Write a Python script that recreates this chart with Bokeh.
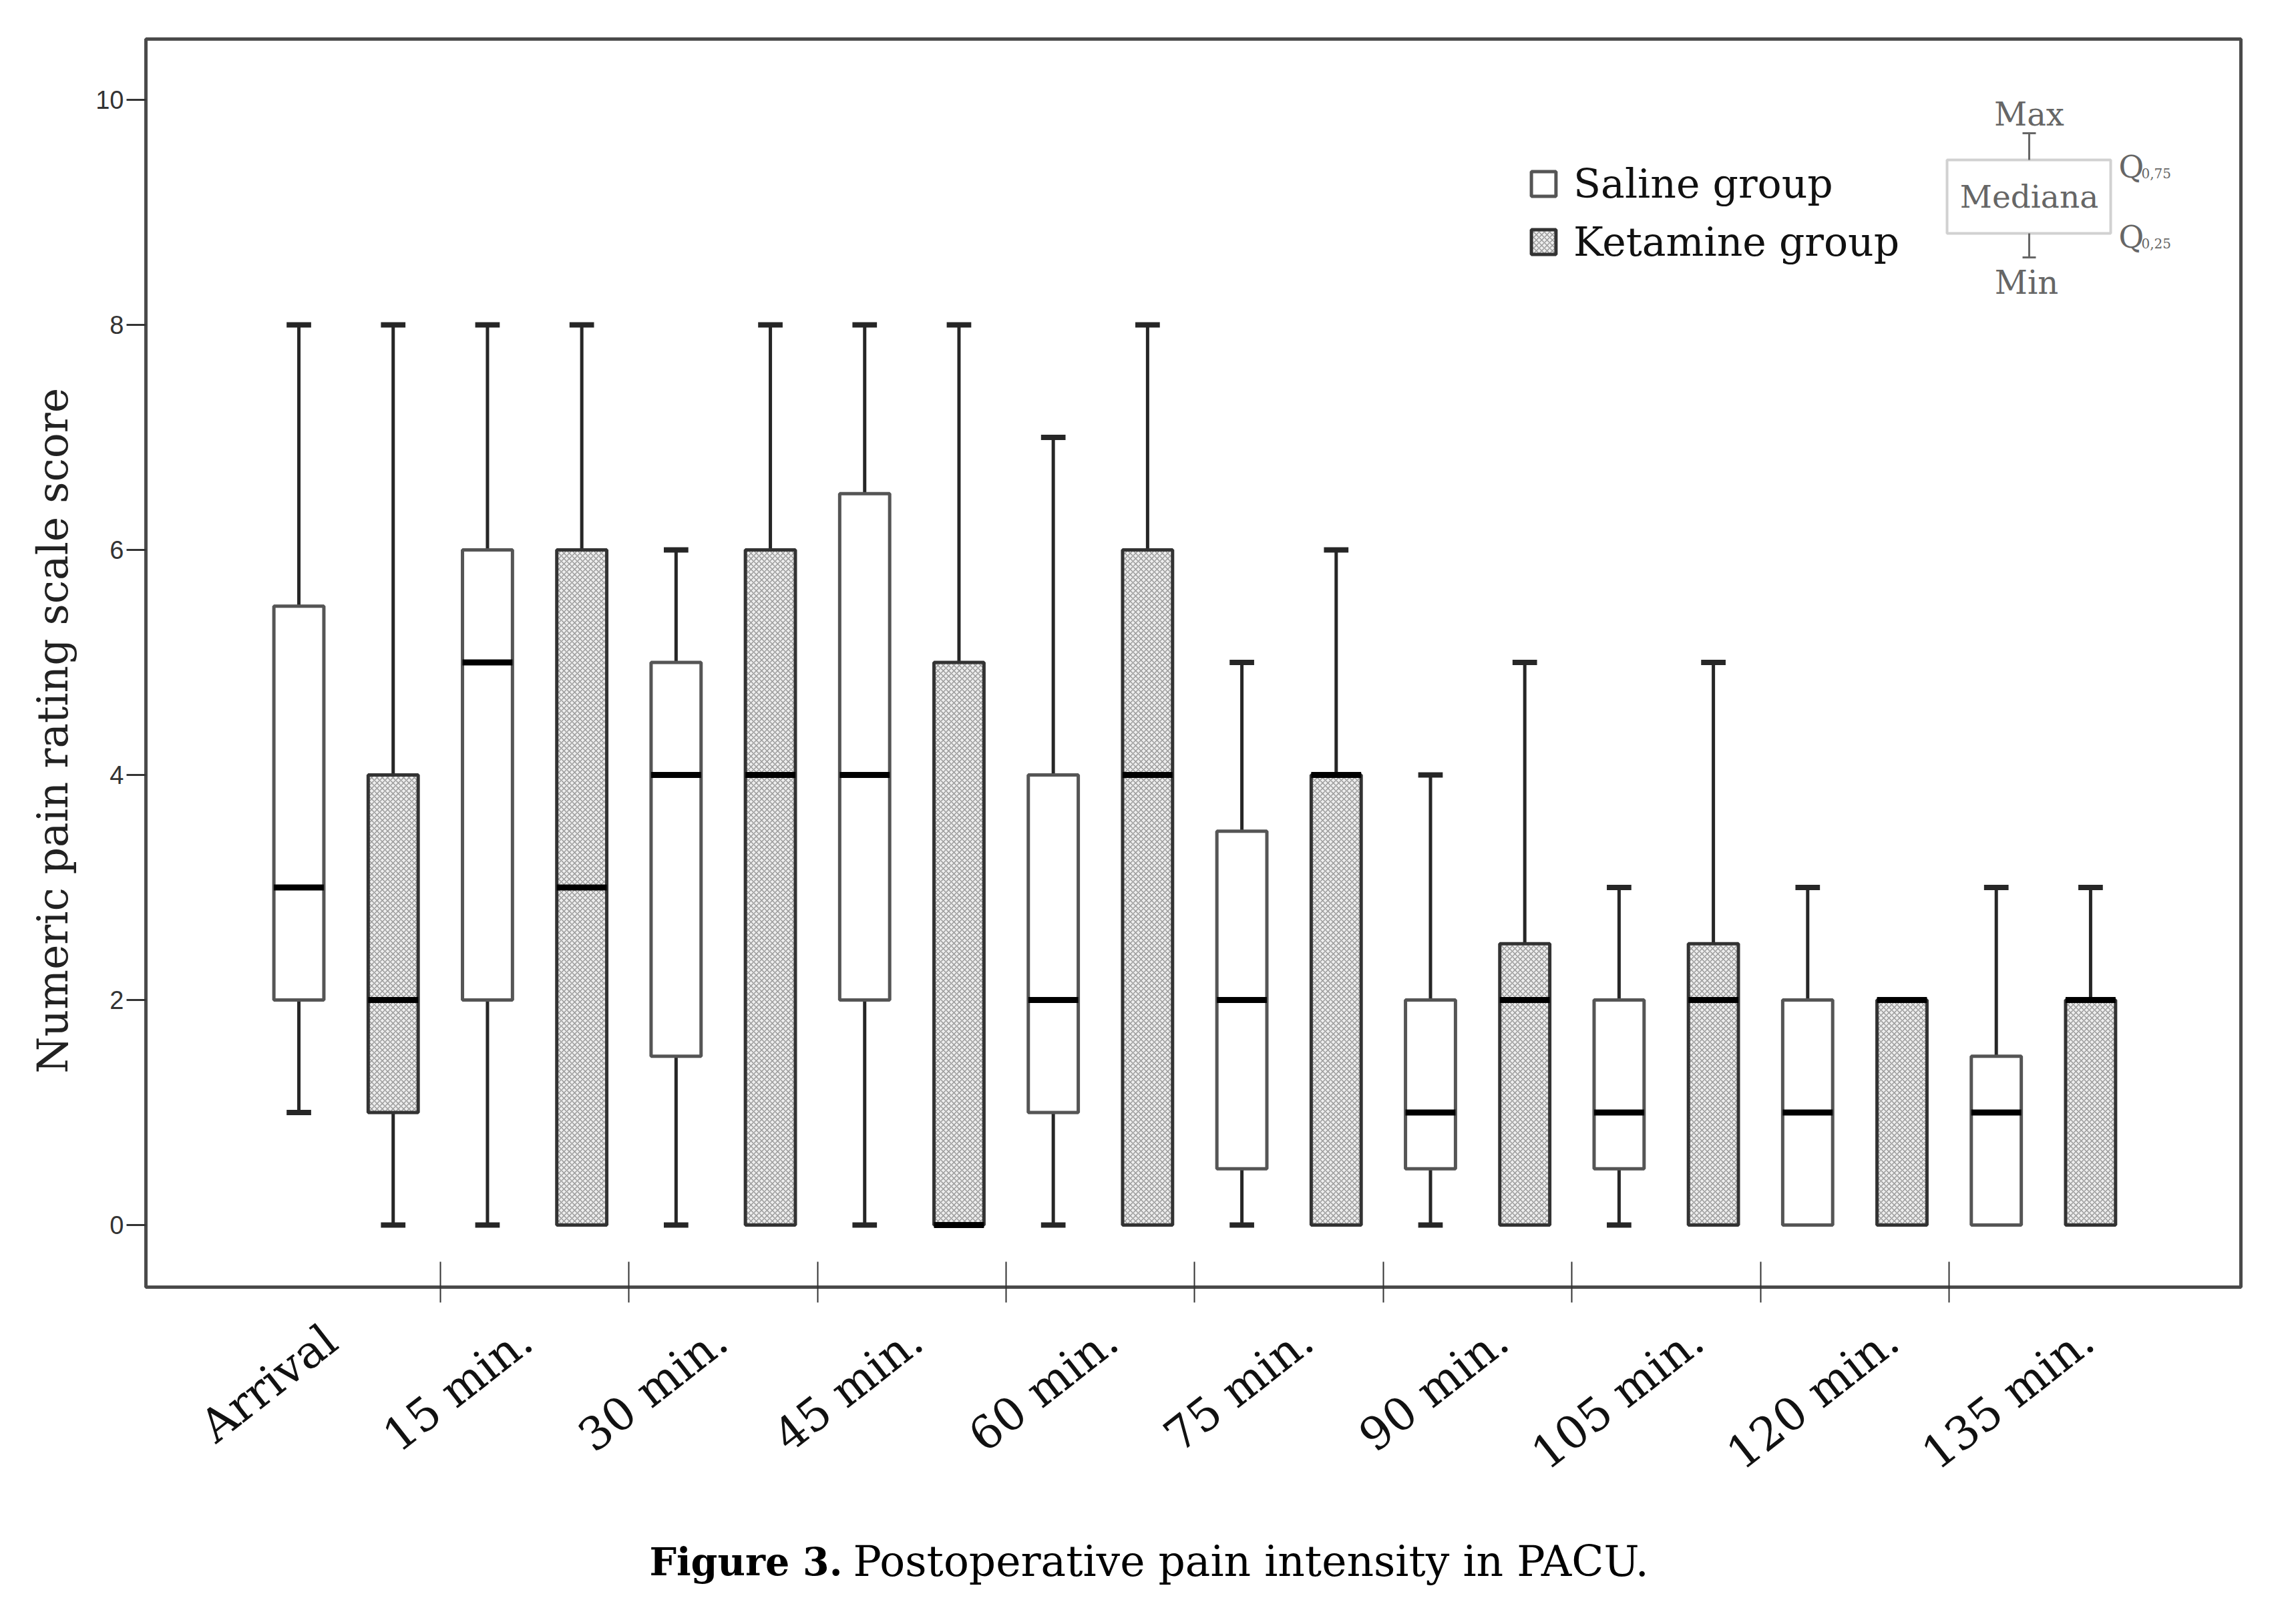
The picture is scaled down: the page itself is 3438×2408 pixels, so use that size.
import math
from bokeh.plotting import figure
from bokeh.layouts import column
from bokeh.models import (Range1d, FixedTicker, Label, Legend, LegendItem,
                          ColumnDataSource, BoxAnnotation, Title)
from bokeh.core.properties import value
from bokeh.embed import file_html
from bokeh.resources import INLINE

# ---------------- data ----------------
groups = ["Arrival", "15 min.", "30 min.", "45 min.", "60 min.",
          "75 min.", "90 min.", "105 min.", "120 min.", "135 min."]

saline_min = [1, 0, 0, 0, 0, 0, 0, 0, 0, 0]
saline_q1 = [2, 2, 1.5, 2, 1, 0.5, 0.5, 0.5, 0, 0]
saline_med = [3, 5, 4, 4, 2, 2, 1, 1, 1, 1]
saline_q3 = [5.5, 6, 5, 6.5, 4, 3.5, 2, 2, 2, 1.5]
saline_max = [8, 8, 6, 8, 7, 5, 4, 3, 3, 3]

ketamine_min = [0, 0, 0, 0, 0, 0, 0, 0, 0, 0]
ketamine_q1 = [1, 0, 0, 0, 0, 0, 0, 0, 0, 0]
ketamine_med = [2, 3, 4, 0, 4, 4, 2, 2, 2, 2]
ketamine_q3 = [4, 6, 6, 5, 6, 4, 2.5, 2.5, 2, 2]
ketamine_max = [8, 8, 8, 8, 8, 6, 5, 5, 2, 3]

y_ticks = [0, 2, 4, 6, 8, 10]

caption_bold = "Figure 3."
caption_text = "Postoperative pain intensity in PACU."

# ---------------- layout ----------------
W = 3420
H = 2280          # main chart
HC = 110          # caption strip below it
FL, FR, FT, FB = 218, 3355, 58, 1927       # frame edges in figure pixels
X0, X1 = -1.061, 10.047
Y0, Y1 = -0.552, 10.54

OFFSET = 0.25      # half distance between the two boxes of a group
BOX_W = 0.265
CAP_W = 0.13


def fx(px):  # figure pixel -> data x (for annotations)
    return X0 + (px - FL) / (FR - FL) * (X1 - X0)


def fy(py):  # figure pixel -> data y (for annotations)
    return Y1 - (py - FT) / (FB - FT) * (Y1 - Y0)


p = figure(width=W, height=H, x_range=Range1d(X0, X1), y_range=Range1d(Y0, Y1),
           output_backend="svg", toolbar_location=None,
           min_border_left=FL, min_border_right=W - FR,
           min_border_top=FT, min_border_bottom=H - FB)
p.grid.visible = False
p.background_fill_color = "white"
p.border_fill_color = "white"
p.outline_line_color = "#4a4a4a"
p.outline_line_width = 5
p.outline_line_alpha = 1.0


def draw_group(mins, q1s, meds, q3s, maxs, shift, hatched):
    xs = [i + shift for i in range(len(groups))]
    src = ColumnDataSource(dict(x=xs, mn=mins, q1=q1s, med=meds, q3=q3s, mx=maxs))
    # whiskers
    p.segment(x0="x", y0="q3", x1="x", y1="mx", source=src,
              line_color="#262626", line_width=5)
    p.segment(x0="x", y0="q1", x1="x", y1="mn", source=src,
              line_color="#262626", line_width=5)
    # boxes
    if hatched:
        r = p.vbar(x="x", width=BOX_W, bottom="q1", top="q3", source=src,
                   fill_color="#eeeeee", line_color="#333333", line_width=5,
                   hatch_pattern="diagonal_cross", hatch_color="#9a9a9a",
                   hatch_scale=8, hatch_weight=1.5)
    else:
        r = p.vbar(x="x", width=BOX_W, bottom="q1", top="q3", source=src,
                   fill_color="white", line_color="#555555", line_width=5)
    # medians
    p.segment(x0=[x - BOX_W / 2 for x in xs], x1=[x + BOX_W / 2 for x in xs],
              y0=meds, y1=meds, line_color="black", line_width=9)
    # caps (only where a whisker exists)
    top_x = [x for x, a, b in zip(xs, q3s, maxs) if b > a]
    top_y = [b for a, b in zip(q3s, maxs) if b > a]
    bot_x = [x for x, a, b in zip(xs, q1s, mins) if b < a]
    bot_y = [b for a, b in zip(q1s, mins) if b < a]
    p.segment(x0=[x - CAP_W / 2 for x in top_x], x1=[x + CAP_W / 2 for x in top_x],
              y0=top_y, y1=top_y, line_color="#262626", line_width=8)
    p.segment(x0=[x - CAP_W / 2 for x in bot_x], x1=[x + CAP_W / 2 for x in bot_x],
              y0=bot_y, y1=bot_y, line_color="#262626", line_width=8)
    return r


r_sal = draw_group(saline_min, saline_q1, saline_med, saline_q3, saline_max, -OFFSET, False)
r_ket = draw_group(ketamine_min, ketamine_q1, ketamine_med, ketamine_q3, ketamine_max, OFFSET, True)

# ---------------- axes ----------------
label_ticks = [-0.08 + 1.035 * i for i in range(len(groups))]
boundary_ticks = [i + 0.5 for i in range(len(groups) - 1)]
xa = p.xaxis[0]
xa.ticker = FixedTicker(ticks=label_ticks, minor_ticks=boundary_ticks)
xa.major_label_overrides = {t: g for t, g in zip(label_ticks, groups)}
xa.major_tick_in = 0
xa.major_tick_out = 0
xa.minor_tick_in = 38
xa.minor_tick_out = 23
xa.minor_tick_line_color = "#333333"
xa.minor_tick_line_width = 2
xa.axis_line_color = "#4a4a4a"
xa.axis_line_width = 5
xa.major_label_orientation = math.radians(38)
xa.major_label_standoff = 48
xa.major_label_text_font = "DejaVu Serif"
xa.major_label_text_font_size = "68px"
xa.major_label_text_color = "#111111"

ya = p.yaxis[0]
ya.ticker = FixedTicker(ticks=y_ticks)
ya.major_tick_in = 0
ya.major_tick_out = 29
ya.major_tick_line_color = "#333333"
ya.major_tick_line_width = 3
ya.minor_tick_in = 0
ya.minor_tick_out = 0
ya.axis_line_color = "#4a4a4a"
ya.axis_line_width = 5
ya.major_label_standoff = 4
ya.major_label_text_font = "Liberation Sans"
ya.major_label_text_font_size = "38px"
ya.major_label_text_color = "#333333"

# y axis title (as a side title so that it sits outside the frame)
p.add_layout(Title(text="Numeric pain rating scale score", align="left", offset=320,
                   vertical_align="middle", standoff=48,
                   text_font="DejaVu Serif", text_font_size="63px",
                   text_font_style="normal", text_color="#222222"), "left")

# ---------------- legend ----------------
legend = Legend(items=[LegendItem(label="Saline group", renderers=[r_sal]),
                       LegendItem(label="Ketamine group", renderers=[r_ket])],
                location=(2070, 1530))
legend.glyph_width = 46
legend.glyph_height = 46
legend.label_text_font = "DejaVu Serif"
legend.label_text_font_size = "60px"
legend.label_text_color = "#111111"
legend.label_standoff = 22
legend.spacing = 17
legend.padding = 0
legend.margin = 0
legend.border_line_color = None
legend.background_fill_alpha = 0
p.add_layout(legend)

# ---------------- schematic key (Max / Mediana / Min) ----------------
KC = "#666666"
p.add_layout(BoxAnnotation(left=fx(2915), right=fx(3160), top=fy(239), bottom=fy(349),
                           fill_alpha=0, line_color=KC, line_width=4))
kx = fx(3038)
p.segment(x0=[kx, kx], x1=[kx, kx], y0=[fy(199), fy(349)], y1=[fy(239), fy(385)],
          line_color=KC, line_width=3)
p.segment(x0=[fx(3028), fx(3028)], x1=[fx(3048), fx(3048)], y0=[fy(199), fy(385)],
          y1=[fy(199), fy(385)], line_color=KC, line_width=3)
for txt, px, py, size in [("Max", 3038, 170, "48px"), ("Mediana", 3038, 294, "47px"),
                          ("Min", 3034, 422, "48px")]:
    p.add_layout(Label(x=fx(px), y=fy(py), text=txt, text_align="center",
                       text_baseline="middle", text_font="DejaVu Serif",
                       text_font_size=size, text_color=KC))
for sub, base in [("0,75", 249), ("0,25", 354)]:
    p.add_layout(Label(x=fx(3172), y=fy(base), text="Q", text_align="left",
                       text_baseline="alphabetic", text_font="DejaVu Serif",
                       text_font_size="46px", text_color=KC))
    p.add_layout(Label(x=fx(3206), y=fy(base + 10), text=sub, text_align="left",
                       text_baseline="alphabetic", text_font="DejaVu Serif",
                       text_font_size="20px", text_color=KC))

# ---------------- caption strip ----------------
# the column aligns this strip's frame with the chart frame, so its x range is
# expressed in the chart's figure pixels
cap = figure(width=W, height=HC, x_range=Range1d(FL, FR), y_range=Range1d(0, HC),
             output_backend="svg", toolbar_location=None,
             x_axis_type=None, y_axis_type=None,
             min_border=0, min_border_left=0, min_border_right=0,
             min_border_top=0, min_border_bottom=0)
cap.grid.visible = False
cap.outline_line_color = None
cap.background_fill_color = "white"
cap.border_fill_color = "white"
base_y = HC - (2354 - H) + 16
cap.text(x=[972], y=[base_y], text=[caption_bold], text_font=value("DejaVu Serif"),
         text_font_style=value("bold"), text_font_size=value("57px"),
         text_baseline=value("alphabetic"), text_align=value("left"), text_color="black")
cap.text(x=[1277], y=[base_y], text=[caption_text], text_font=value("DejaVu Serif"),
         text_font_style=value("normal"), text_font_size=value("63px"),
         text_baseline=value("alphabetic"), text_align=value("left"), text_color="black")

layout = column(p, cap, spacing=0)
open("out.html", "w").write(file_html(layout, INLINE))
